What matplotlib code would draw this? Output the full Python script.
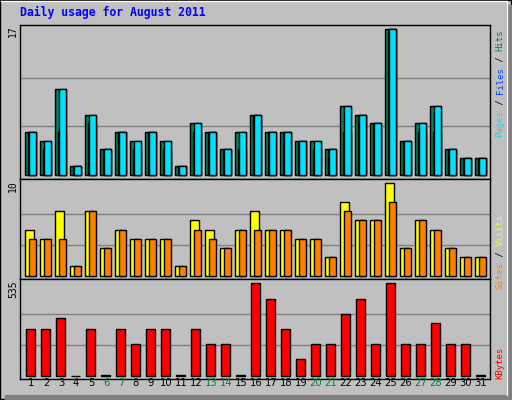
import matplotlib
matplotlib.use("Agg")
import matplotlib.pyplot as plt
from matplotlib.patches import Rectangle
import numpy as np

days = list(range(1, 32))
hits   = [5,4,10,1,7,3,5,4,5,4,1,6,5,3,5,7,5,5,4,4,3,8,7,6,17,4,6,8,3,2,2]
files  = [5,3,5,1,6,3,5,3,5,3,1,5,5,3,3,7,5,5,4,3,3,5,7,6,17,4,5,5,3,2,2]
pages  = [5,4,10,1,7,3,5,4,5,4,1,6,5,3,5,7,5,5,4,4,3,8,7,6,17,4,6,8,3,2,2]
visits = [5,4,7,1,7,3,5,4,4,4,1,6,5,3,5,7,5,5,4,4,2,8,6,6,10,3,6,5,3,2,2]
sites  = [4,4,4,1,7,3,5,4,4,4,1,5,4,3,5,5,5,5,4,4,2,7,6,6,8,3,6,5,3,2,2]
kbytes = [271,271,336,0,271,5,271,184,271,271,5,271,184,184,5,535,447,271,96,184,184,359,447,184,535,184,184,307,184,184,5]
weekend = {6,7,13,14,20,21,27,28}
max_hits, max_visits, max_kb = 17, 10, 535

W, H = 512, 400
fig = plt.figure(figsize=(W/100, H/100), dpi=100)
fig.patch.set_facecolor('#C0C0C0')
bg = fig.add_axes([0, 0, 1, 1]); bg.set_xlim(0, W); bg.set_ylim(H, 0); bg.axis('off')
bg.add_patch(Rectangle((0, 0), W-1, H-1, fill=False, ec='black', lw=1))
bg.add_patch(Rectangle((507, 5), 5, 395, color='#808080'))
bg.add_patch(Rectangle((5, 395), 507, 5, color='#808080'))
bg.plot([1, 507, 507], [1, 1, 395], color='white', lw=1)
bg.text(20, 12, 'Daily usage for August 2011', color='#0000FF', fontsize=8.3,
        family='DejaVu Sans Mono', weight='bold', va='center', ha='left')

def ax_px(x0, y0, x1, y1):
    a = fig.add_axes([x0/W, 1-y1/H, (x1-x0)/W, (y1-y0)/H])
    a.set_facecolor('#C0C0C0')
    a.set_xlim(0.267, 31.6)
    a.set_xticks([]); a.set_yticks([])
    for s in a.spines.values():
        s.set_color('black'); s.set_linewidth(1)
    return a

kw = dict(edgecolor='black', linewidth=1, align='edge')
d = np.array(days)

a1 = ax_px(20, 25, 490, 179)
a1.set_ylim(-0.46, 17.46)
for g in (max_hits/3, 2*max_hits/3):
    a1.axhline(g, color='#808080', lw=1, zorder=0)
a1.bar(d-0.4, hits, width=0.75, color='#00805C', **kw)
a1.bar(d-0.22, files, width=0.57, color='#0040FF', **kw)
a1.bar(d-0.13, pages, width=0.48, color='#00E0FF', **kw)

a2 = ax_px(20, 179, 490, 279)
a2.set_ylim(-0.36, 10.47)
for g in (max_visits/3, 2*max_visits/3):
    a2.axhline(g, color='#808080', lw=1, zorder=0)
a2.bar(d-0.4, visits, width=0.6, color='#FFFF00', **kw)
a2.bar(d-0.13, sites, width=0.48, color='#FF8000', **kw)

a3 = ax_px(20, 279, 490, 379)
a3.set_ylim(-19, 560)
for g in (max_kb/3, 2*max_kb/3):
    a3.axhline(g, color='#808080', lw=1, zorder=0)
a3.bar(d-0.33, kbytes, width=0.62, color='#FF0000', **kw)

for i in days:
    a3.text(i, -45, str(i), ha='center', va='center', fontsize=7.2,
            family='DejaVu Sans', color='#008040' if i in weekend else 'black')

mono = dict(family='DejaVu Sans Mono', fontsize=7, rotation=90, ha='center')
bg.text(13, 25, str(max_hits), va='top', **mono)
bg.text(13, 180, str(max_visits), va='top', **mono)
bg.text(13, 280, str(max_kb), va='top', **mono)

rmono = dict(family='DejaVu Sans Mono', fontsize=6.5, rotation=90, ha='center', va='bottom')
fig.canvas.draw()
renderer = fig.canvas.get_renderer()
def vlabel(y_bottom, parts):
    y = y_bottom
    for txt, col in parts:
        t = bg.text(500, y, txt, color=col, **rmono)
        ext = t.get_window_extent(renderer)
        y -= ext.height
vlabel(137, [('Pages', '#00E0FF'), (' / ', 'black'), ('Files', '#0040FF'), (' / ', 'black'), ('Hits', '#00805C')])
vlabel(289, [('Sites', '#FF8000'), (' / ', 'black'), ('Visits', '#FFFF00')])
vlabel(379, [('KBytes', '#FF0000')])

fig.savefig('out.png', dpi=100, facecolor=fig.get_facecolor())
